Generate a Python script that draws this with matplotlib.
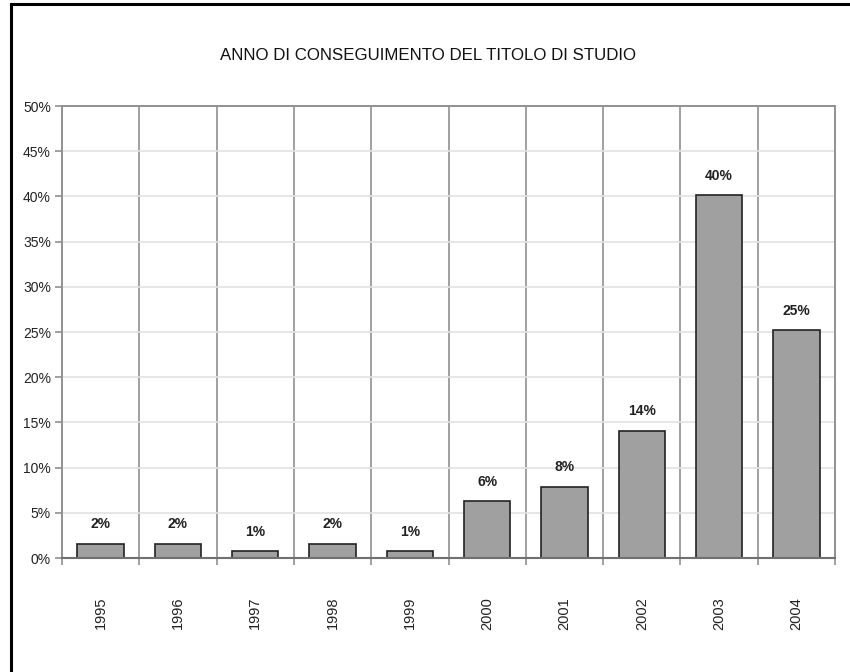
import matplotlib.pyplot as plt
from matplotlib.lines import Line2D

plt.rcParams['font.family'] = ['Liberation Sans', 'DejaVu Sans']

# dati
anni = ['1995', '1996', '1997', '1998', '1999', '2000', '2001', '2002', '2003', '2004']
percentuali = [1.6, 1.6, 0.8, 1.6, 0.8, 6.3, 7.9, 14.1, 40.1, 25.2]
etichette = ['2%', '2%', '1%', '2%', '1%', '6%', '8%', '14%', '40%', '25%']
yticks = [0, 5, 10, 15, 20, 25, 30, 35, 40, 45, 50]

fig = plt.figure(figsize=(8.5, 6.72), dpi=100)
ax = fig.add_axes([62/850, 1 - 558/672, (835-62)/850, (558-106)/672])

x = list(range(len(anni)))
ax.bar(x, percentuali, width=0.6, color='#a0a0a0', edgecolor='#222222', linewidth=1.2, zorder=3)
for xi, v, lab in zip(x, percentuali, etichette):
    ax.text(xi, v + 1.35, lab, ha='center', va='bottom', fontsize=10, fontweight='bold', color='#222222')

ax.set_xlim(-0.5, len(anni) - 0.5)
ax.set_ylim(0, 50)

# griglia orizzontale chiara
ax.set_yticks(yticks)
ax.set_yticklabels([f'{t}%' for t in yticks], fontsize=10, color='#222222')
ax.yaxis.grid(True, color='#e2e2e2', linewidth=1.2, zorder=0)
# linee verticali tra le categorie
for b in range(1, len(anni)):
    ax.axvline(b - 0.5, color='#909090', linewidth=1.2, zorder=1)

ax.set_xticks([b - 0.5 for b in range(len(anni) + 1)], minor=False)
ax.set_xticklabels([])
ax.set_xticks(x, minor=True)
ax.set_xticklabels(anni, minor=True, rotation=90, fontsize=10.5, color='#222222')
ax.tick_params(axis='x', which='minor', length=0, pad=28)
ax.tick_params(axis='x', which='major', length=5, color='#909090', width=1.2)
ax.tick_params(axis='y', length=5, color='#909090', width=1.2, pad=3)

for s in ['top', 'right', 'left']:
    ax.spines[s].set_color('#909090')
    ax.spines[s].set_linewidth(1.4)
ax.spines['bottom'].set_color('#707070')
ax.spines['bottom'].set_linewidth(1.5)
ax.spines['bottom'].set_zorder(4)

fig.text(428/850, 1 - 55/672, 'ANNO DI CONSEGUIMENTO DEL TITOLO DI STUDIO',
         ha='center', va='center', fontsize=12.2, color='#111111')

# bordo del grafico (solo sinistra e sopra visibili)
fig.add_artist(Line2D([10.5/850, 10.5/850], [0, 1 - 4/672], transform=fig.transFigure, color='black', linewidth=2.2))
fig.add_artist(Line2D([10.5/850, 1], [1 - 4/672, 1 - 4/672], transform=fig.transFigure, color='black', linewidth=2.2))

fig.savefig('out.png', dpi=100)
